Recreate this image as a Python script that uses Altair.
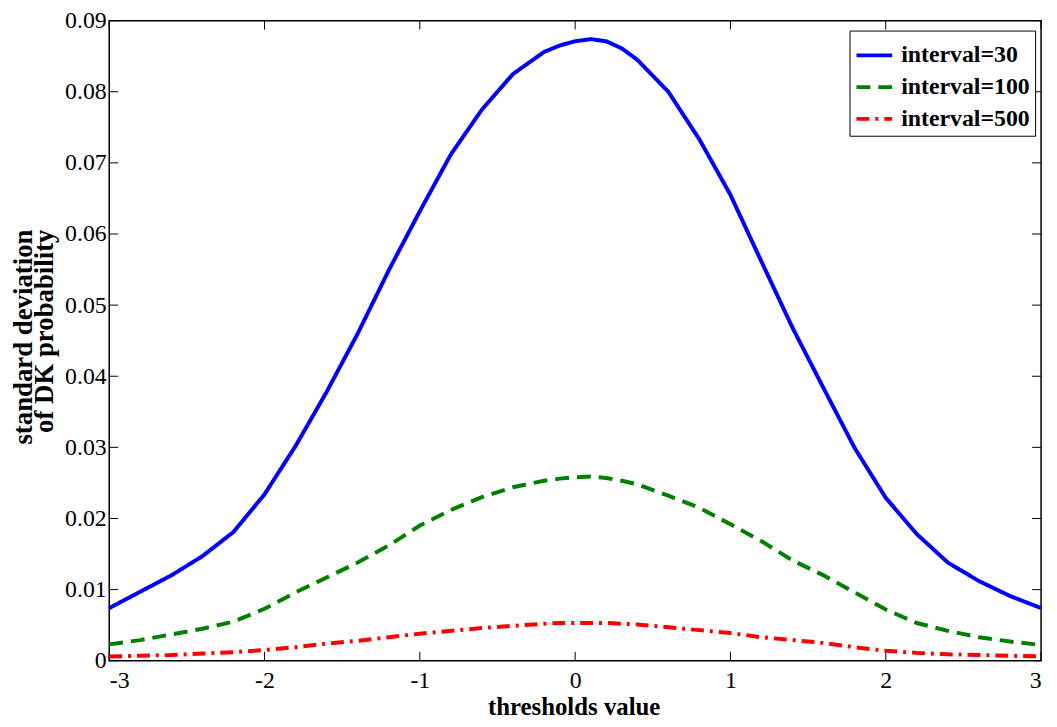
import altair as alt
import pandas as pd

# ---- data ----
x_vals = [-3.0, -2.8, -2.6, -2.4, -2.2, -2.0, -1.8, -1.6, -1.4, -1.2, -1.0,
          -0.8, -0.6, -0.4, -0.2, -0.1, 0.0, 0.1, 0.2, 0.3, 0.4, 0.6, 0.8, 1.0,
          1.2, 1.4, 1.6, 1.8, 2.0, 2.2, 2.4, 2.6, 2.8, 3.0]
interval_30 = [0.0074, 0.0097, 0.0120, 0.0147, 0.0181, 0.0234, 0.0302, 0.0378, 0.0460, 0.0549, 0.0632,
               0.0712, 0.0775, 0.0825, 0.0856, 0.0865, 0.0871, 0.0874, 0.0871, 0.0861, 0.0845,
               0.0800, 0.0733, 0.0655,
               0.0561, 0.0468, 0.0383, 0.0299, 0.0229, 0.0178, 0.0138, 0.0112, 0.0091, 0.0074]
interval_100 = [0.0023, 0.0029, 0.0037, 0.0045, 0.0055, 0.0073, 0.0096, 0.0117, 0.0138, 0.0162, 0.0190,
                0.0212, 0.0230, 0.0244, 0.0253, 0.0256, 0.0258, 0.0259, 0.0257, 0.0253, 0.0248,
                0.0232, 0.0215, 0.0192,
                0.0168, 0.0141, 0.0120, 0.0096, 0.0072, 0.0053, 0.0042, 0.0033, 0.0027, 0.0022]
interval_500 = [0.0006, 0.0007, 0.0008, 0.0010, 0.0012, 0.0015, 0.0019, 0.0024, 0.0028, 0.0033, 0.0038,
                0.0042, 0.0046, 0.0049, 0.0052, 0.0053, 0.0053, 0.0053, 0.0053, 0.0052, 0.0051,
                0.0047, 0.0043, 0.0039,
                0.0033, 0.0029, 0.0025, 0.0019, 0.0014, 0.0011, 0.0009, 0.0008, 0.0007, 0.0006]
series_names = ["interval=30", "interval=100", "interval=500"]
series_colors = ["#0000ff", "#008000", "#ff0000"]
series_dashes = [[1, 0], [14, 8], [13, 6, 3, 6]]
x_ticks = [-3, -2, -1, 0, 1, 2, 3]
y_ticks = [0, 0.01, 0.02, 0.03, 0.04, 0.05, 0.06, 0.07, 0.08, 0.09]

rows = []
for name, vals in zip(series_names, [interval_30, interval_100, interval_500]):
    for xv, yv in zip(x_vals, vals):
        rows.append({"x": xv, "y": yv, "series": name})
df = pd.DataFrame(rows)
df_xt = pd.DataFrame({"x": x_ticks})
df_yt = pd.DataFrame({"y": y_ticks})

W, H = 939, 645
FONT = "Liberation Serif"

x_axis = alt.Axis(values=x_ticks, labelExpr="'' + datum.value", ticks=False, domain=False,
                  grid=False, labelFont=FONT, labelFontSize=24, labelColor="black",
                  labelPadding=8, title="thresholds value", titleFont=FONT,
                  titleFontSize=25, titleFontWeight="bold", titleColor="black",
                  titleX=468, titleY=54, titleBaseline="alphabetic")
y_axis = alt.Axis(values=y_ticks,
                  labelExpr="datum.value == 0 ? '0' : format(datum.value, '.2f')",
                  ticks=False, domain=False, grid=False, labelFont=FONT,
                  labelFontSize=24, labelColor="black", labelPadding=3,
                  title=["standard deviation", "of DK probability"], titleFont=FONT,
                  titleFontSize=27, titleFontWeight="bold", titleColor="black",
                  titleX=-72, titleY=210, titleBaseline="bottom", titleLineHeight=21,
                  titleAngle=270, titleAlign="right")

xs = alt.Scale(domain=[-3, 3], nice=False)
ys = alt.Scale(domain=[0, 0.09], nice=False, zero=True)
X = alt.X("x:Q", scale=xs, axis=x_axis)
Y = alt.Y("y:Q", scale=ys, axis=y_axis)

leg = alt.Legend(title=None, orient="none", legendX=746, legendY=10, fillColor="white",
                 strokeColor="black", padding=5, symbolType="stroke",
                 symbolSize=1296, symbolStrokeWidth=4, labelFont=FONT, labelFontSize=24,
                 labelFontWeight="bold", labelColor="black", labelOffset=7,
                 labelLimit=300, rowPadding=0)

lines = alt.Chart(df).mark_line(strokeWidth=4).encode(
    x=X, y=Y,
    color=alt.Color("series:N", scale=alt.Scale(domain=series_names, range=series_colors),
                    sort=series_names, legend=leg),
    strokeDash=alt.StrokeDash("series:N", scale=alt.Scale(domain=series_names, range=series_dashes),
                              sort=series_names, legend=leg),
)

tick_len = 9
xt_bottom = alt.Chart(df_xt).mark_rule(color="black", strokeWidth=1).encode(
    x=X, y=alt.value(H), y2=alt.value(H - tick_len))
xt_top = alt.Chart(df_xt).mark_rule(color="black", strokeWidth=1).encode(
    x=X, y=alt.value(0), y2=alt.value(tick_len))
yt_left = alt.Chart(df_yt).mark_rule(color="black", strokeWidth=1).encode(
    y=Y, x=alt.value(0), x2=alt.value(tick_len))
yt_right = alt.Chart(df_yt).mark_rule(color="black", strokeWidth=1).encode(
    y=Y, x=alt.value(W), x2=alt.value(W - tick_len))

chart = alt.layer(xt_bottom, xt_top, yt_left, yt_right, lines).properties(
    width=W, height=H,
    padding={"left": 102, "top": 10, "right": 8, "bottom": 56},
    autosize=alt.AutoSizeParams(type="none"),
    background="white",
).configure_view(stroke="black", strokeWidth=1.5)

chart.save("out.html", embed_options={"renderer": "svg", "actions": False})
